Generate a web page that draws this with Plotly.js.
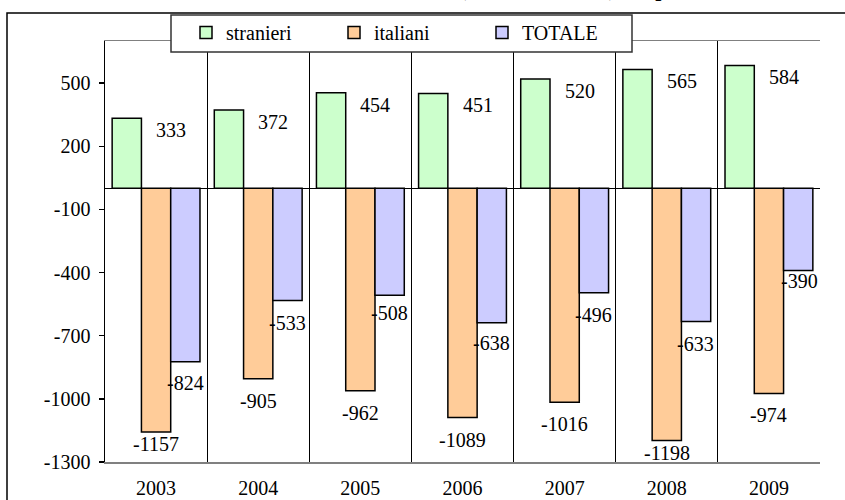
<!DOCTYPE html>
<html>
<head>
<meta charset="utf-8">
<script src="https://cdn.plot.ly/plotly-3.0.1.min.js"></script>
<style>html,body{margin:0;padding:0;background:#fff;}#chart{width:845px;height:500px;}</style>
</head>
<body>
<div id="chart"></div>
<script>
const years = ['2003','2004','2005','2006','2007','2008','2009'];
const stranieri = [333, 372, 454, 451, 520, 565, 584];
const italiani = [-1157, -905, -962, -1089, -1016, -1198, -974];
const totale = [-824, -533, -508, -638, -496, -633, -390];
const yTicks = [500, 200, -100, -400, -700, -1000, -1300];
const titleText = 'Saldo naturale (anni 2003-2009) del paese';

const FONT = '"Liberation Serif", "Times New Roman", Times, serif';
const W = 845, H = 500;
const M = {l: 105, r: 25, t: 41, b: 38};
const PW = W - M.l - M.r, PH = H - M.t - M.b;
const px2x = p => (p - M.l) / PW;
const px2y = p => 1 - (p - M.t) / PH;

// label offsets (style)
const greenShift = {x: 15, y: -12};
const orangeY = [-12, -22, -22, -22, -22, -12, -22];
const blueX = [29, 29, 29, 29, 29, 29, 31];
const blueY = [-21, -22, -18, -20, -22, -22, -11];

const mk = (name, y, color) => ({
  type: 'bar', name: name, x: years, y: y,
  marker: {color: color, line: {color: '#000', width: 1.5}},
  hoverinfo: 'skip'
});

const data = [
  mk('stranieri', stranieri, '#CCFFCC'),
  mk('italiani', italiani, '#FFCC99'),
  mk('TOTALE', totale, '#CCCCFF')
];

const ann = [];
const lf = {family: FONT, size: 20, color: '#000'};
years.forEach((yr, i) => {
  ann.push({x: i, y: stranieri[i], xref: 'x', yref: 'y', text: String(stranieri[i]), showarrow: false,
    xshift: greenShift.x, yshift: greenShift.y, font: lf, xanchor: 'center', yanchor: 'middle'});
  ann.push({x: i, y: italiani[i], xref: 'x', yref: 'y', text: String(italiani[i]), showarrow: false,
    xshift: 0, yshift: orangeY[i], font: lf, xanchor: 'center', yanchor: 'middle'});
  ann.push({x: i, y: totale[i], xref: 'x', yref: 'y', text: String(totale[i]), showarrow: false,
    xshift: blueX[i], yshift: blueY[i], font: lf, xanchor: 'center', yanchor: 'middle'});
});
ann.push({x: px2x(314), y: px2y(3), xref: 'paper', yref: 'paper', text: '<b>' + titleText + '</b>',
  showarrow: false, xanchor: 'left', yanchor: 'bottom', font: {family: FONT, size: 22, color: '#000'}});

const layout = {
  width: W, height: H,
  margin: M,
  paper_bgcolor: '#fff', plot_bgcolor: '#fff',
  barmode: 'group', bargap: 0.14, bargroupgap: 0,
  font: {family: FONT, size: 20, color: '#000'},
  showlegend: true,
  legend: {
    orientation: 'h', x: px2x(186), y: px2y(13), xanchor: 'left', yanchor: 'top',
    bgcolor: 'rgba(0,0,0,0)', borderwidth: 0,
    font: {family: FONT, size: 20, color: '#000'},
    entrywidth: 103, itemclick: false
  },
  xaxis: {
    type: 'category', range: [-0.5, 6.5], autorange: false,
    tickson: 'boundaries', showgrid: true, gridcolor: '#000', gridwidth: 1,
    showline: true, mirror: true, linecolor: '#808080', linewidth: 1.5,
    ticks: '', ticklabelstandoff: 7, zeroline: false, tickangle: 0,
    tickfont: {family: FONT, size: 20, color: '#000'}, fixedrange: true
  },
  yaxis: {
    range: [-1300, 700], autorange: false, tickvals: yTicks, ticktext: yTicks.map(String),
    showgrid: false, zeroline: true, zerolinecolor: '#000', zerolinewidth: 1.5,
    showline: true, linecolor: '#000', linewidth: 1.5,
    ticks: 'outside', ticklen: 5, tickcolor: '#000', tickwidth: 1.5,
    ticklabelstandoff: 4,
    tickfont: {family: FONT, size: 20, color: '#000'}, fixedrange: true
  },
  annotations: ann,
  shapes: [
    {type: 'rect', xref: 'paper', yref: 'paper', x0: px2x(7), x1: px2x(855), y0: px2y(510), y1: px2y(13),
     line: {color: '#000', width: 1.5}, fillcolor: 'rgba(0,0,0,0)', layer: 'above'},
    {type: 'rect', xref: 'paper', yref: 'paper', x0: px2x(171), x1: px2x(632), y0: px2y(52), y1: px2y(15),
     line: {color: '#333', width: 1.5}, fillcolor: '#fff', layer: 'above'}
  ]
};

Plotly.newPlot('chart', data, layout, {displayModeBar: false, staticPlot: true});
</script>
</body>
</html>
